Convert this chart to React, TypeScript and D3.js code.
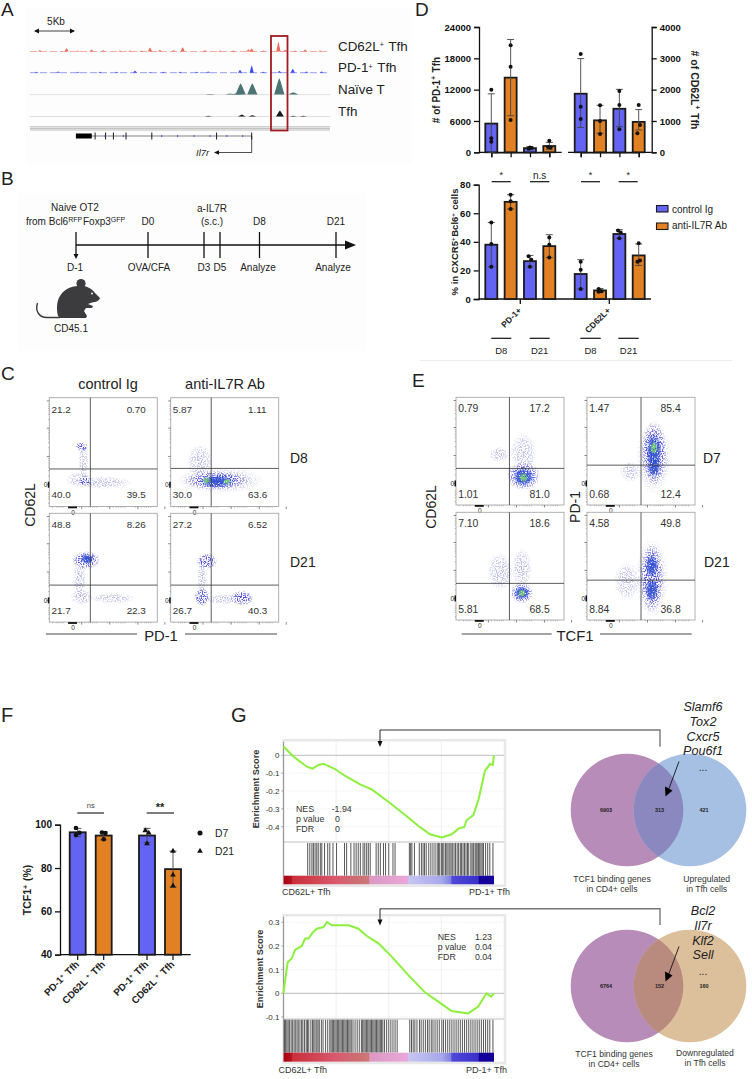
import React, { useRef, useEffect } from "react";
import * as d3 from "d3";

const FONT = "'Liberation Sans', Arial, sans-serif";
const BLUE = "#6464f4";
const ORANGE = "#e28024";

// ---- A: genome tracks, [position %, signal height]
const trackRed = [[3.3, 1.3], [12.2, 3.3], [16, 1], [20.5, 2], [24.4, 1.3], [30, 1], [33.3, 1], [37.2, 1], [40, 4], [43.3, 1.7], [47.8, 1.3], [50.9, 4.3], [58.3, 1.3], [63.3, 1], [67.8, 1], [72.8, 2.3], [73.9, 3], [77.8, 1], [82.8, 10], [85, 1.7], [88.3, 1], [91.7, 2], [96.7, 1]];
const trackBlue = [[2.2, 1], [9.4, 1.3], [16, 1], [23.3, 1], [28.9, 1], [35, 2], [40, 0.7], [44.4, 1], [50, 1], [55.6, 1], [59.4, 1.3], [70, 2.7], [73.9, 7.3], [77.8, 1], [83.1, 1.7], [87.6, 4], [92.2, 1.3], [97.2, 1.3]];
const trackNaive = [[60, 0.7], [66.7, 1], [68.9, 1.3], [70.2, 11.3], [74.1, 11.3], [83.1, 16.7], [87.8, 2.3]];
const trackTfh = [[59.4, 0.7], [70.6, 2], [74.1, 1.3], [83.3, 6], [87.8, 0.7], [91.1, 0.7]];
const exons = [21.7, 25.2, 27.8, 32, 40.6, 62.2, 73.9];
const introMarks = [25, 31.1, 43.9, 49.2, 54.7, 60, 65.6, 70.9];

// ---- B: timeline
const timelineDays = [-1, 0, 3, 5, 8, 21];

// ---- D: counts
const dLeftMean = [5500, 14300, 800, 1200];
const dLeftErr = [[0, 11200], [7000, 21600], [500, 1100], [500, 1900]];
const dLeftPts = [[12000, 2700, 2000], [20500, 16400, 6200], [700, 900, 800], [2200, 1000, 900]];
const dLeftSide = [[0, 0, 0], [0, 0, 0], [-1, 0, 1], [0, -1, 1]];
const dRightMean = [1870, 1020, 1390, 970];
const dRightErr = [[790, 2990], [606, 1500], [820, 2010], [712, 1362]];
const dRightPts = [[3140, 1457, 1064], [1500, 1000, 585], [1957, 1510, 734], [1510, 872, 606]];
const dRightSide = [[0, 0, 0], [0, 0, 0], [0, 0, 0], [0, 1, -1]];
const barIds = ["a", "b", "c", "d"];

// ---- D: percentages
const dPctMean = [38, 68, 26.5, 37, 17.5, 6, 45.5, 30.5];
const dPctErr = [[22.5, 53.5], [63, 73], [22.5, 30.5], [29, 45], [7, 27.5], [4.7, 7.3], [42.5, 48.5], [23.5, 38.5]];
const dPctPts = [[53.5, 38.5, 22.5], [73, 68.5, 63], [30, 27.5, 22.5], [43, 38, 29], [26, 20.5, 7], [7, 5.5, 5], [48, 46.5, 42.5], [39, 27, 26]];
const dPctSide = [[0, 0, 0], [0, 0, 0], [-1, 1, 0], [0, 0, 0], [0, 0, 0], [-1, 1, -1], [-1, 1, 0], [0, 1, -1]];

// ---- F
const fMean = [96.5, 95, 95, 79.5];
const fErr = [[94.5, 98.3], [93, 96.8], [91.8, 98.3], [71.2, 87.8]];
const fPts = [[98.5, 96.3, 95.2], [96.4, 96.2, 93.3], [97.3, 96.2, 91.3], [87.8, 76.8, 71.8]];
const fSide = [[-1, 1, -1], [-1, 1, 0], [-1, 1, 0], [0, 0, 0]];
const fLabels = ["PD-1", "CD62L ", "PD-1", "CD62L "];

// ---- C / E: flow density regions [x %, y %, rx, ry, level]
// The single events can't be read from the picture, so these are regions, not cells.
// The dotted look is an SVG noise filter (texture only, it positions no data).
const flowC1 = [[31.5, 41, 4, 14, 0], [28, 24.5, 11, 6, 0], [50, 22, 22, 5, 0], [30, 55, 5, 4, 1], [33, 23.5, 5, 4, 1]];
const flowC2 = [[27, 41, 10, 14, 0], [46, 24, 34, 10, 0], [42, 24, 25, 7, 1], [43, 23, 13, 5, 2], [33, 24, 3, 2.5, 3], [52, 23, 3, 2, 3]];
const flowC3 = [[28, 40, 5, 18, 0], [30, 23, 9, 6, 0], [59, 22, 18, 4, 0], [34, 57, 11, 7, 1], [35, 58, 5, 4, 2]];
const flowC4 = [[29, 40, 4, 16, 0], [49, 21, 16, 4, 0], [33.5, 56, 8, 6, 1], [29, 23, 6, 7, 1], [66, 22, 9, 6, 1]];
const flowE1 = [[40, 47, 8, 6, 0], [62.5, 48, 10, 16, 0], [62.5, 27, 13, 11, 1], [62.5, 26, 8, 7, 2], [62.5, 25.5, 3.5, 3.5, 3]];
const flowE2 = [[40, 31, 8, 8, 0], [62, 44, 14, 28, 0], [62, 48, 10, 25, 1], [62, 50, 6, 14, 2], [62, 36, 5, 9, 2], [62, 53, 3, 5, 3]];
const flowE3 = [[41, 45, 10, 15, 0], [61, 48, 8, 16, 0], [61, 25, 9, 8, 1], [61, 25, 6, 5, 2], [61, 25, 3, 3, 3]];
const flowE4 = [[37, 36, 10, 15, 0], [60, 39, 13, 30, 0], [60, 39, 9, 27, 1], [60, 50, 5, 9, 2], [60, 28, 5, 9, 2]];
const levelColor = ["#9a9ad8", "#3a3ad8", "#2f4fd0", "#74d468"];

const flowPanels = [
  { c: flowC1, box: [49.3, 397.7], gate: [38, 34.5], q: ["21.2", "0.70", "40.0", "39.5"] },
  { c: flowC2, box: [170.7, 397.7], gate: [37.5, 35], q: ["5.87", "1.11", "30.0", "63.6"] },
  { c: flowC3, box: [49.3, 513.3], gate: [38, 34], q: ["48.8", "8.26", "21.7", "22.3"] },
  { c: flowC4, box: [170.7, 513.3], gate: [37.5, 34], q: ["27.2", "6.52", "26.7", "40.3"] },
  { c: flowE1, box: [456, 397.3], gate: [49.5, 34], q: ["0.79", "17.2", "1.01", "81.0"] },
  { c: flowE2, box: [587, 397.3], gate: [50, 37], q: ["1.47", "85.4", "0.68", "12.4"] },
  { c: flowE3, box: [456, 512.3], gate: [49.5, 34], q: ["7.10", "18.6", "5.81", "68.5"] },
  { c: flowE4, box: [587, 512.3], gate: [50, 37], q: ["4.58", "49.8", "8.84", "36.8"] },
];
const flowMajorTicks = [20, 46, 72, 97];
const flowMinorTicks = [3, 7, 9, 11, 13, 28, 33, 36, 38, 40, 42, 44, 54, 59, 62, 64, 66, 68, 70, 80, 85, 88, 90, 92, 94];

// ---- G: running enrichment scores [rank %, ES]
const gseaTop = [[0, 0.049], [4.7, -0.007], [11.1, -0.064], [13.8, -0.075], [16.6, -0.054], [19, -0.047], [24.5, -0.077], [29.3, -0.116], [36.4, -0.163], [41.9, -0.191], [49.8, -0.26], [57.8, -0.335], [64.1, -0.396], [69.6, -0.443], [75.2, -0.46], [79.9, -0.443], [83.1, -0.411], [85.9, -0.402], [87, -0.364], [90.2, -0.335], [92.6, -0.25], [95.7, -0.088], [98.1, -0.049], [99.4, -0.054], [100, 0]];
const gseaBottom = [[0, 0], [0.8, 0.056], [2, 0.131], [3.96, 0.148], [5.5, 0.183], [8.7, 0.2], [10.3, 0.231], [11.9, 0.231], [13.8, 0.256], [15.8, 0.273], [19, 0.28], [20.6, 0.301], [23, 0.287], [30.9, 0.287], [35.6, 0.273], [39.6, 0.242], [45.1, 0.211], [51.4, 0.155], [59.3, 0.077], [67.2, 0.004], [73.5, -0.035], [79.9, -0.075], [87.8, -0.085], [92.5, -0.056], [96.4, 0], [98.7, -0.014], [100, 0]];
const hitsTop = [11.5, 12.5, 13.5, 14.2, 15, 15.8, 16.5, 17.5, 18.2, 19.5, 21, 22, 23.5, 25.2, 29, 30, 32, 33.5, 34.5, 35.5, 36.5, 37.8, 38.6, 39.5, 40.3, 41.2, 44, 45, 46, 47.5, 48.5, 50, 52, 53, 59.8, 60.4, 61, 62.2, 64.5, 65.5, 66.3, 67, 67.8, 69, 70, 71, 72, 73, 73.6, 74.2, 75, 75.6, 76.2, 77, 77.6, 78.2, 79, 79.6, 80.2, 81, 81.7, 82.5, 83.2, 84, 84.6, 85.3, 86, 86.7, 87.4, 88, 89, 89.6, 90.2, 91, 91.5, 92, 92.6, 93.2, 93.8, 94.4, 95, 96, 97, 98, 99.5];
const hitsBottom = [0.5, 1, 1.6, 2.2, 2.8, 3.6, 4.2, 5, 5.6, 6.4, 7, 7.8, 8.6, 9.2, 10, 10.8, 11.4, 12, 13, 13.8, 14.4, 15, 15.8, 16.4, 17, 18, 18.8, 20, 21, 22, 22.6, 23.2, 23.8, 24.4, 25, 25.6, 26.2, 26.8, 27.4, 28, 28.6, 29.2, 29.8, 30.4, 31, 31.6, 32.2, 33, 34, 35, 36, 37, 37.6, 38.2, 38.8, 39.4, 40, 40.6, 41.2, 41.8, 42.4, 43, 43.6, 44.2, 44.8, 45.4, 46, 46.6, 47.2, 48, 49, 50, 51, 52, 53, 54, 60, 60.8, 61.6, 62.4, 63.4, 64.6, 65.4, 66.4, 67.4, 68.4, 69.2, 70.2, 71, 72, 73, 74, 75.2, 76, 77, 78, 79, 80, 81, 82, 83, 84, 85, 86, 87, 88, 89, 90, 91, 92, 93, 94, 95, 96, 97, 98, 99.5];
const ribbonOffsets = [0, 4, 4.1, 13, 25, 35, 40.5, 41, 59, 59.5, 75, 79.5, 80, 92.5, 93, 100];
const ribbonColors = ["#a8000f", "#b31620", "#c8303a", "#d0404f", "#d85a70", "#cc6e72", "#cf7878", "#dd98c4", "#e8a8d8", "#c6c6f2", "#a8a8ea", "#8080e0", "#5048d8", "#3a30c8", "#14009a", "#14009a"];
const esTicksTop = [0, -0.1, -0.2, -0.3, -0.4];
const esTicksBottom = [0.3, 0.2, 0.1, 0, -0.1];

function T({ x, y, size = 9, anchor = "start", weight = "normal", italic = false, rotate, fill = "#222", children }: any) {
  return (
    <text
      x={rotate === undefined ? x : 0}
      y={rotate === undefined ? y : 0}
      transform={rotate === undefined ? undefined : `translate(${x},${y}) rotate(${rotate})`}
      fontSize={size}
      textAnchor={anchor}
      fontWeight={weight}
      fontStyle={italic ? "italic" : "normal"}
      fontFamily={FONT}
      fill={fill}
    >
      {children}
    </text>
  );
}

const Sup = ({ dy = 3.5, size = 7, children }: any) => (
  <>
    <tspan dy={-dy} fontSize={size}>{children}</tspan>
    <tspan dy={dy}>{"\u200a"}</tspan>
  </>
);

// d3 axis drawn into a <g>
function Axis({ gen, x = 0, y = 0, size = 9.5 }: any) {
  const ref = useRef<SVGGElement>(null);
  useEffect(() => {
    const g = d3.select(ref.current);
    g.call(gen);
    g.selectAll("path,line").attr("stroke", "#111").attr("stroke-width", 1.3);
    g.selectAll("text")
      .attr("font-family", FONT)
      .attr("font-weight", "bold")
      .attr("font-size", size)
      .attr("fill", "#111");
  }, []);
  return <g ref={ref} transform={`translate(${x},${y})`} />;
}

function Bars({ ids, xs, mean, err, pts, side, y, w = 12, sym = "circle", r = 2 }: any) {
  const y0 = y.range()[0];
  return (
    <g>
      {ids.map((id: string, i: number) => {
        const cx = xs(id);
        return (
          <g key={id}>
            <rect x={cx - w / 2} y={y(mean[i])} width={w} height={y0 - y(mean[i])} fill={i % 2 ? ORANGE : BLUE} stroke="#1a1a1a" strokeWidth={1.8} />
            <path d={`M${cx},${y(err[i][0])}V${y(err[i][1])}M${cx - 3.5},${y(err[i][0])}h7M${cx - 3.5},${y(err[i][1])}h7`} stroke="#444" strokeWidth={0.9} fill="none" />
            {pts[i].map((p: number, j: number) => {
              const px = cx + side[i][j] * w * 0.11;
              return sym === "circle" ? (
                <circle key={j} cx={px} cy={y(p)} r={r} fill="#111" />
              ) : (
                <path key={j} transform={`translate(${px},${y(p)})`} d={d3.symbol(d3.symbolTriangle, 14)() as string} fill="#111" />
              );
            })}
          </g>
        );
      })}
    </g>
  );
}

function Track({ peaks, y0, color, width, x, baseline = "#d8d8d8", dash }: any) {
  const area = d3.area<number[]>().x((d) => x(d[0])).y0(y0).y1((d) => y0 - d[1]);
  return (
    <g>
      <line x1={x(0)} x2={x(100)} y1={y0} y2={y0} stroke={baseline} strokeWidth={0.8} strokeDasharray={dash} />
      {peaks.map((p: number[], i: number) => (
        <path key={i} d={area([[p[0] - width, 0], [p[0] - width / 4, p[1] * 0.8], [p[0], p[1]], [p[0] + width / 4, p[1] * 0.8], [p[0] + width, 0]]) as string} fill={color} />
      ))}
    </g>
  );
}

function PanelA() {
  const x = d3.scaleLinear().domain([0, 100]).range([30, 330]);
  const geneY = 136;
  return (
    <g>
      <rect x={26} y={8} width={386} height={156} fill="#fdfdfd" />
      <T x={56} y={25} size={10} anchor="middle">5Kb</T>
      <path d="M35,31H74" stroke="#111" strokeWidth={0.8} />
      <path d="M34,31l5,-2.5v5zM75,31l-5,-2.5v5z" fill="#111" />
      <Track peaks={trackRed} y0={51.5} color="#ee6a58" width={0.7} x={x} baseline="#f09a8c" dash="7 3" />
      <Track peaks={trackBlue} y0={72.7} color="#3a4ef0" width={0.7} x={x} baseline="#7c88f0" dash="7 3" />
      <Track peaks={trackNaive} y0={94.6} color="#4d7474" width={1.7} x={x} />
      <Track peaks={trackTfh} y0={116.5} color="#161616" width={1.3} x={x} />
      {[126.8, 128.4, 130].map((yy) => (
        <line key={yy} x1={x(0)} x2={x(100)} y1={yy} y2={yy} stroke="#a9a9a9" strokeWidth={0.8} />
      ))}
      <rect x={271} y={36} width={16.5} height={94.5} fill="none" stroke="#a01c22" strokeWidth={1.8} />
      <rect x={x(15.3)} y={geneY - 2.5} width={x(20.6) - x(15.3)} height={5} fill="#000" />
      <line x1={x(20.6)} x2={x(73.9)} y1={geneY} y2={geneY} stroke="#333" strokeWidth={0.6} />
      {exons.map((e) => (
        <line key={e} x1={x(e)} x2={x(e)} y1={geneY - 3.5} y2={geneY + 3.5} stroke="#000" strokeWidth={0.9} />
      ))}
      {introMarks.map((e) => (
        <line key={e} x1={x(e)} x2={x(e)} y1={geneY - 1} y2={geneY + 1} stroke="#4a55e0" strokeWidth={1} />
      ))}
      <path d={`M${x(73.9)},${geneY}V152.5H218`} fill="none" stroke="#222" strokeWidth={0.8} />
      <path d="M214,152.5l5,-2.3v4.6z" fill="#111" />
      <T x={196} y={155.5} size={9.5} italic>Il7r</T>
      <T x={338} y={50.5} size={13.4}>CD62L<Sup>+</Sup> Tfh</T>
      <T x={338} y={72} size={13.4}>PD-1<Sup>+</Sup> Tfh</T>
      <T x={338} y={94} size={13.4}>Naïve T</T>
      <T x={338} y={116} size={13.4}>Tfh</T>
    </g>
  );
}

function PanelB() {
  const pos = [76, 148, 204, 220, 259.5, 336];
  const x = d3.scaleOrdinal<number, number>().domain(timelineDays).range(pos);
  const labelsTop = ["", "D0", "", "", "D8", "D21"];
  const labelsBot = ["D-1", "OVA/CFA", "D3", "D5", "Analyze", "Analyze"];
  const botX = [75, 149, 204, 220, 258, 333];
  return (
    <g>
      <rect x={18} y={193} width={348} height={158} fill="#fdfdfd" />
      <line x1={76} x2={348} y1={245} y2={245} stroke="#111" strokeWidth={1.6} />
      <path d="M356,245l-11,-4.5v9z" fill="#111" />
      {timelineDays.map((d, i) => (
        <line key={d} x1={x(d)} x2={x(d)} y1={232} y2={i === 0 ? 255 : 258} stroke="#111" strokeWidth={1.3} />
      ))}
      <path d="M76,259l-2.5,-5h5z" fill="#111" />
      {labelsTop.map((l, i) => l && <T key={l} x={pos[i]} y={225} size={10} anchor="middle">{l}</T>)}
      {labelsBot.map((l, i) => <T key={i} x={botX[i]} y={270.5} size={10} anchor="middle">{l}</T>)}
      <T x={75} y={210.5} size={10} anchor="middle">Naive OT2</T>
      <T x={76} y={225} size={10} anchor="middle">
        from Bcl6<Sup dy={3} size={7}>RFP</Sup>Foxp3<Sup dy={3} size={7}>GFP</Sup>
      </T>
      <T x={212} y={212} size={10} anchor="middle">a-IL7R</T>
      <T x={212} y={225} size={10} anchor="middle">(s.c.)</T>
      {/* mouse icon */}
      <g fill="#3c3c3e">
        <circle cx={81} cy={283.5} r={4.6} />
        <path d="M58,316C54,298 63,287 78,286C86,285 92,289 95,293L100,298C99,301 96,302 92,302.5L88,304L93,306L92,308L86,308L84,311L87,316L86,318L60,318Z" />
      </g>
      <circle cx={92} cy={293.5} r={0.9} fill="#fff" />
      <path d="M60,317.5H47C39,317.5 35,311 37.5,303" fill="none" stroke="#3c3c3e" strokeWidth={1.4} />
      <T x={71} y={331.5} size={10} anchor="middle">CD45.1</T>
    </g>
  );
}

function FlowPlot({ panel, idx }: any) {
  const W = 108;
  const isE = panel.box[0] > 400;
  const H = isE ? 107.7 : 108.8;
  const [bx, by] = panel.box;
  const x = d3.scaleLinear().domain([0, 100]).range([bx, bx + W]);
  const y = d3.scaleLinear().domain([0, 100]).range([by + H, by]);
  const zeroX = 22;
  const zeroY = 20;
  const rightX = isE ? 68 : 71.6;
  const labelX = [x(2), x(rightX), x(2), x(rightX)];
  const labelY = [by + 14.8, by + 14.8, by + 100.3, by + 100.3];
  return (
    <g>
      <clipPath id={`clip${idx}`}><rect x={bx} y={by} width={W} height={H} /></clipPath>
      <g clipPath={`url(#clip${idx})`}>
        <g filter="url(#speckle)">
          {panel.c.filter((d: number[]) => d[4] < 2).map((d: number[], i: number) => (
            <ellipse key={i} cx={x(d[0])} cy={y(d[1])} rx={d[2] * 1.3} ry={d[3] * 1.3} fill={`url(#lvl${d[4]})`} />
          ))}
        </g>
        <g filter="url(#speckleDense)">
          {panel.c.filter((d: number[]) => d[4] >= 2).map((d: number[], i: number) => (
            <ellipse key={i} cx={x(d[0])} cy={y(d[1])} rx={d[2] * 1.3} ry={d[3] * 1.3} fill={`url(#lvl${d[4]})`} />
          ))}
        </g>
      </g>
      <rect x={bx} y={by} width={W} height={H} fill="none" stroke="#a8a8a8" strokeWidth={0.9} />
      <line x1={x(panel.gate[0])} x2={x(panel.gate[0])} y1={by} y2={by + H} stroke="#333" strokeWidth={0.8} />
      <line x1={bx} x2={bx + W} y1={y(panel.gate[1])} y2={y(panel.gate[1])} stroke="#333" strokeWidth={0.8} />
      {flowMajorTicks.map((t) => (
        <g key={t}>
          <line x1={bx - 2.5} x2={bx} y1={y(t)} y2={y(t)} stroke="#555" strokeWidth={0.7} />
          <line x1={x(t + 10)} x2={x(t + 10)} y1={by + H} y2={by + H + 2.5} stroke="#555" strokeWidth={0.7} />
        </g>
      ))}
      {flowMinorTicks.map((t) => (
        <g key={t}>
          <line x1={bx - 1.3} x2={bx} y1={y(t)} y2={y(t)} stroke="#888" strokeWidth={0.5} />
          <line x1={x(t)} x2={x(t)} y1={by + H} y2={by + H + 1.3} stroke="#888" strokeWidth={0.5} />
        </g>
      ))}
      <rect x={bx - 1.5} y={y(zeroY) - 3} width={1.5} height={6} fill="#111" />
      <rect x={x(zeroX) - 5} y={by + H} width={9} height={1.8} fill="#111" />
      <T x={bx - 2} y={y(zeroY) + 2.5} size={6.5} anchor="end" fill="#333">0</T>
      <T x={x(zeroX)} y={by + H + 8} size={6.5} anchor="middle" fill="#333">0</T>
      {panel.q.map((q: string, i: number) => (
        <T key={i} x={labelX[i]} y={labelY[i]} size={isE ? 10.4 : 9.9} fill="#333">{q}</T>
      ))}
    </g>
  );
}

function Gsea({ curve, hits, ticks, top, bottom, zeroY, perUnit, barTop, barBot, ribBot, boxBot, id }: any) {
  const x = d3.scaleLinear().domain([0, 100]).range([283.5, 494]);
  const y = d3.scaleLinear().domain([0, -1]).range([zeroY, zeroY + perUnit]);
  const line = d3.line<number[]>().x((d) => x(d[0])).y((d) => y(d[1])).curve(d3.curveLinear);
  return (
    <g>
      <rect x={283.5} y={top - 1.5} width={221.5} height={boxBot - top + 1.5} fill="#fff" stroke="#e8e8e8" strokeWidth={2.5} />
      {[25, 50, 75].map((g) => (
        <line key={g} x1={x(g)} x2={x(g)} y1={top} y2={bottom} stroke="#e6e6e6" strokeWidth={0.6} />
      ))}
      {ticks.map((t: number) => (
        <g key={t}>
          {t !== 0 && <line x1={283.5} x2={504} y1={y(t)} y2={y(t)} stroke="#e2e2e2" strokeWidth={0.6} strokeDasharray="1.5 1.5" />}
          <line x1={281} x2={283.5} y1={y(t)} y2={y(t)} stroke="#888" strokeWidth={0.6} />
          <T x={279.5} y={y(t) + 3} size={8} anchor="end" fill="#333">{t}</T>
        </g>
      ))}
      <line x1={283.5} x2={504} y1={zeroY} y2={zeroY} stroke="#aaa" strokeWidth={0.8} />
      <line x1={283.5} x2={504} y1={bottom} y2={bottom} stroke="#999" strokeWidth={0.6} />
      <line x1={283.5} x2={283.5} y1={top} y2={barBot} stroke="#888" strokeWidth={0.8} />
      <path d={line(curve) as string} fill="none" stroke="#8cf03c" strokeWidth={2} />
      {hits.map((h: number) => (
        <line key={h} x1={x(h)} x2={x(h)} y1={barTop} y2={barBot} stroke="#222" strokeOpacity={0.8} strokeWidth={0.95} />
      ))}
      <linearGradient id={id}>
        {ribbonOffsets.map((o, i) => <stop key={o} offset={`${o}%`} stopColor={ribbonColors[i]} />)}
      </linearGradient>
      <rect x={283.5} y={barBot} width={210.5} height={ribBot - barBot} fill={`url(#${id})`} />
    </g>
  );
}

function Venn({ cy, id, rightFill, overlap, nums, arrowTop }: any) {
  const cxL = 627;
  const cxR = 690;
  const r = 56.3;
  return (
    <g>
      <circle cx={cxL} cy={cy} r={r} fill="#b78cb8" />
      <circle cx={cxR} cy={cy} r={r} fill={rightFill} />
      <clipPath id={id}><circle cx={cxL} cy={cy} r={r} /></clipPath>
      <circle cx={cxR} cy={cy} r={r} fill={overlap} clipPath={`url(#${id})`} />
      {nums.map((n: string, i: number) => (
        <T key={n} x={[606, 659.5, 704][i]} y={cy + 1.8} size={5.5} anchor="middle" weight="bold">{n}</T>
      ))}
      <line x1={679} y1={arrowTop} x2={667.5} y2={arrowTop + 31} stroke="#111" strokeWidth={0.9} />
      <path d={`M665.5,${arrowTop + 35}L665,${arrowTop + 25}L672.5,${arrowTop + 29}Z`} fill="#000" />
    </g>
  );
}

export default function App() {
  // D upper
  const xL = d3.scalePoint().domain(barIds).range([491.3, 549.3]);
  const xR = d3.scalePoint().domain(barIds).range([580.7, 638.7]);
  const yCountL = d3.scaleLinear().domain([0, 24000]).range([152.3, 27]);
  const yCountR = d3.scaleLinear().domain([0, 4000]).range([152.3, 27]);
  // D lower
  const yPct = d3.scaleLinear().domain([0, 80]).range([299, 184.7]);
  // F
  const xF = d3.scaleOrdinal<string, number>().domain(barIds).range([77.7, 103.7, 147, 173]);
  const yF = d3.scaleLinear().domain([40, 100]).range([954.7, 824.7]);

  return (
    <svg width={752} height={1079} style={{ position: "absolute", top: 0, left: 0, background: "#fff" }}>
      <defs>
        {levelColor.map((c, i) => (
          <radialGradient key={i} id={`lvl${i}`}>
            <stop offset="0%" stopColor={c} stopOpacity={i === 0 ? 0.75 : 1} />
            <stop offset="60%" stopColor={c} stopOpacity={i === 0 ? 0.5 : 0.8} />
            <stop offset="100%" stopColor={c} stopOpacity={0} />
          </radialGradient>
        ))}
        <filter id="speckle" x="0" y="0" width="100%" height="100%" colorInterpolationFilters="sRGB">
          <feTurbulence type="fractalNoise" baseFrequency="0.8" numOctaves={1} seed={3} result="n" />
          <feColorMatrix in="n" type="matrix" values="0 0 0 0 0 0 0 0 0 0 0 0 0 0 0 6 0 0 0 -2.7" result="m" />
          <feComposite in="SourceGraphic" in2="m" operator="in" />
        </filter>
        <filter id="speckleDense" x="0" y="0" width="100%" height="100%" colorInterpolationFilters="sRGB">
          <feTurbulence type="fractalNoise" baseFrequency="0.9" numOctaves={1} seed={8} result="n" />
          <feColorMatrix in="n" type="matrix" values="0 0 0 0 0 0 0 0 0 0 0 0 0 0 0 5 0 0 0 -1.4" result="m" />
          <feComposite in="SourceGraphic" in2="m" operator="in" />
        </filter>
      </defs>

      {/* panel letters */}
      <T x={1} y={16} size={19}>A</T>
      <T x={415} y={16} size={19}>D</T>
      <T x={1} y={185} size={19}>B</T>
      <T x={1} y={380} size={19}>C</T>
      <T x={412} y={387} size={19}>E</T>
      <T x={1} y={722} size={20}>F</T>
      <T x={231} y={722} size={20}>G</T>

      <PanelA />
      <PanelB />

      {/* D upper */}
      <Axis gen={d3.axisLeft(yCountL).tickValues([0, 6000, 12000, 18000, 24000]).tickFormat(d3.format("d")).tickSizeOuter(0).tickSize(5)} x={479} />
      <Axis gen={d3.axisRight(yCountR).tickValues([0, 1000, 2000, 3000, 4000]).tickFormat(d3.format("d")).tickSizeOuter(0).tickSize(5)} x={651.7} />
      <line x1={479} x2={561.7} y1={152.3} y2={152.3} stroke="#111" strokeWidth={1.3} />
      <line x1={568} x2={651.7} y1={152.3} y2={152.3} stroke="#111" strokeWidth={1.3} />
      <Axis gen={d3.axisBottom(xL).tickSize(5).tickFormat(() => "")} y={152.3} />
      <Axis gen={d3.axisBottom(xR).tickSize(5).tickFormat(() => "")} y={152.3} />
      <Bars ids={barIds} xs={xL} mean={dLeftMean} err={dLeftErr} pts={dLeftPts} side={dLeftSide} y={yCountL} />
      <Bars ids={barIds} xs={xR} mean={dRightMean} err={dRightErr} pts={dRightPts} side={dRightSide} y={yCountR} />
      <T x={439.5} y={90} size={10} anchor="middle" weight="bold" rotate={-90}># of PD-1<Sup size={6.5}>+</Sup> Tfh</T>
      <T x={691} y={90} size={10.5} anchor="middle" weight="bold" rotate={90}># of CD62L<Sup size={6.5}>+</Sup> Tfh</T>

      {/* D lower */}
      <Axis gen={d3.axisLeft(yPct).tickValues([0, 20, 40, 60, 80]).tickSizeOuter(0).tickSize(5)} x={478.7} />
      <line x1={478.7} x2={651} y1={299} y2={299} stroke="#111" strokeWidth={1.3} />
      <line x1={520.3} x2={520.3} y1={299} y2={304} stroke="#111" strokeWidth={1.3} />
      <line x1={609.3} x2={609.3} y1={299} y2={304} stroke="#111" strokeWidth={1.3} />
      <Bars ids={barIds} xs={xL} mean={dPctMean.slice(0, 4)} err={dPctErr.slice(0, 4)} pts={dPctPts.slice(0, 4)} side={dPctSide.slice(0, 4)} y={yPct} />
      <Bars ids={barIds} xs={xR} mean={dPctMean.slice(4)} err={dPctErr.slice(4)} pts={dPctPts.slice(4)} side={dPctSide.slice(4)} y={yPct} />
      <T x={458} y={242} size={9.5} anchor="middle" weight="bold" rotate={-90}>% in CXCR5<Sup size={6}>+</Sup>Bcl6<Sup size={6}>+</Sup> cells</T>
      <T x={522} y={311} size={8.5} anchor="end" weight="bold" rotate={-45}>PD-1+</T>
      <T x={611} y={311} size={8.5} anchor="end" weight="bold" rotate={-45}>CD62L+</T>
      {[[491.7, 510.7, "*"], [530, 549.3, "n.s"], [581, 600, "*"], [618.7, 637.7, "*"]].map((s: any) => (
        <g key={s[0]}>
          <line x1={s[0]} x2={s[1]} y1={181.7} y2={181.7} stroke="#111" strokeWidth={1.2} />
          <T x={(s[0] + s[1]) / 2} y={s[2] === "*" ? 178 : 179} size={s[2] === "*" ? 9 : 10} anchor="middle">{s[2]}</T>
        </g>
      ))}
      {[[491.3, 511.3, "D8"], [529.7, 549.7, "D21"], [580.3, 600.7, "D8"], [618.3, 638.7, "D21"]].map((s: any) => (
        <g key={s[0]}>
          <line x1={s[0]} x2={s[1]} y1={338.3} y2={338.3} stroke="#111" strokeWidth={1.2} />
          <T x={(s[0] + s[1]) / 2} y={353.5} size={9.5} anchor="middle">{s[2]}</T>
        </g>
      ))}
      <rect x={656.5} y={205.5} width={11.5} height={6.5} fill={BLUE} stroke="#1a1a1a" strokeWidth={1.1} />
      <rect x={656.5} y={223} width={11.5} height={6.5} fill={ORANGE} stroke="#1a1a1a" strokeWidth={1.1} />
      <T x={672} y={212.5} size={10}>control Ig</T>
      <T x={672} y={229} size={10}>anti-IL7R Ab</T>
      <line x1={420} x2={732} y1={360.5} y2={360.5} stroke="#ececec" strokeWidth={1} />

      {/* C and E */}
      {flowPanels.map((p, i) => <FlowPlot key={i} panel={p} idx={i} />)}
      <T x={108} y={389} size={14.5} anchor="middle">control Ig</T>
      <T x={225} y={389} size={14.5} anchor="middle">anti-IL7R Ab</T>
      <T x={35} y={505} size={14} anchor="middle" rotate={-90}>CD62L</T>
      <T x={290} y={463} size={14}>D8</T>
      <T x={290} y={566.5} size={14}>D21</T>
      <line x1={46} x2={137} y1={634} y2={634} stroke="#333" strokeWidth={0.9} />
      <line x1={185} x2={277} y1={634} y2={634} stroke="#333" strokeWidth={0.9} />
      <T x={161} y={640.5} size={14.8} anchor="middle">PD-1</T>

      <T x={436} y={507} size={14} anchor="middle" rotate={-90}>CD62L</T>
      <T x={579.5} y={507} size={14} anchor="middle" rotate={-90}>PD-1</T>
      <T x={703} y={463} size={14}>D7</T>
      <T x={704} y={566.5} size={14}>D21</T>
      <line x1={461.7} x2={551.7} y1={634} y2={634} stroke="#333" strokeWidth={0.9} />
      <line x1={600} x2={691.7} y1={634} y2={634} stroke="#333" strokeWidth={0.9} />
      <T x={575} y={640.5} size={14.8} anchor="middle">TCF1</T>

      {/* F */}
      <Axis gen={d3.axisLeft(yF).tickValues([40, 60, 80, 100]).tickSizeOuter(0).tickSize(5)} x={60} size={10} />
      <line x1={60} x2={190.7} y1={954.7} y2={954.7} stroke="#111" strokeWidth={1.3} />
      {barIds.map((id, i) => (
        <g key={id}>
          <line x1={xF(id)} x2={xF(id)} y1={954.7} y2={960} stroke="#111" strokeWidth={1.2} />
          <T x={xF(id) + 2} y={965} size={9.8} anchor="end" weight="bold" rotate={-45}>{fLabels[i]}<Sup dy={3} size={6}>+</Sup> Tfh</T>
        </g>
      ))}
      <Bars ids={["a", "b"]} xs={xF} mean={fMean} err={fErr} pts={fPts} side={fSide} y={yF} w={16} r={2.3} />
      <Bars ids={["c", "d"]} xs={xF} mean={fMean.slice(2)} err={fErr.slice(2)} pts={fPts.slice(2)} side={fSide.slice(2)} y={yF} w={16} sym="triangle" />
      <T x={31} y={890} size={10.5} anchor="middle" weight="bold" rotate={-90}>TCF1<Sup size={7}>+</Sup> (%)</T>
      <line x1={77.3} x2={104} y1={813} y2={813} stroke="#111" strokeWidth={1.1} />
      <line x1={146.7} x2={174} y1={813} y2={813} stroke="#111" strokeWidth={1.1} />
      <T x={90.7} y={807.5} size={7.5} anchor="middle" fill="#444">ns</T>
      <T x={160} y={811} size={11} anchor="middle" weight="bold">**</T>
      <circle cx={200} cy={833} r={2.5} fill="#111" />
      <path transform="translate(200,851)" d={d3.symbol(d3.symbolTriangle, 14)() as string} fill="#111" />
      <T x={215} y={836.5} size={10.4}>D7</T>
      <T x={215} y={854.5} size={10.4}>D21</T>

      {/* G */}
      <Gsea id="ribTop" curve={gseaTop} hits={hitsTop} ticks={esTicksTop} top={741.7} bottom={842} zeroY={755.3} perUnit={178.4} barTop={843} barBot={875.7} ribBot={884.3} boxBot={885.7} />
      <Gsea id="ribBot" curve={gseaBottom} hits={hitsBottom} ticks={esTicksBottom} top={916.7} bottom={1019} zeroY={993.3} perUnit={236.7} barTop={1019.7} barBot={1052.7} ribBot={1061.7} boxBot={1063} />
      <T x={259} y={789} size={9.2} anchor="middle" weight="bold" fill="#333" rotate={-90}>Enrichment Score</T>
      <T x={262.5} y={969} size={9.2} anchor="middle" weight="bold" fill="#333" rotate={-90}>Enrichment Score</T>
      <T x={282} y={895} size={9} fill="#333">CD62L+ Tfh</T>
      <T x={510} y={895} size={9} anchor="end" fill="#333">PD-1+ Tfh</T>
      <T x={278.5} y={1073} size={9} fill="#333">CD62L+ Tfh</T>
      <T x={507} y={1073} size={9} anchor="end" fill="#333">PD-1+ Tfh</T>
      {[["NES", "-1.94", 331.7], ["p value", "0", 335], ["FDR", "0", 335]].map((r: any, i) => (
        <g key={r[0]}>
          <T x={296} y={812 + i * 10.1} size={8.8} fill="#333">{r[0]}</T>
          <T x={r[2]} y={812 + i * 10.1} size={8.8} fill="#333">{r[1]}</T>
        </g>
      ))}
      {[["NES", "1.23"], ["p value", "0.04"], ["FDR", "0.04"]].map((r: any, i) => (
        <g key={r[0]}>
          <T x={437.7} y={939.5 + i * 10.3} size={8.8} fill="#333">{r[0]}</T>
          <T x={492} y={939.5 + i * 10.3} size={8.8} anchor="end" fill="#333">{r[1]}</T>
        </g>
      ))}
      <path d="M380,730H660V746.7" fill="none" stroke="#777" strokeWidth={1.4} />
      <path d="M380,908.7H660V925" fill="none" stroke="#777" strokeWidth={1.4} />
      <path d="M380,730V743M380,908.7V921.5" stroke="#111" strokeWidth={0.9} />
      <path d="M380,747l-2.5,-6h5zM380,925.5l-2.5,-6h5z" fill="#111" />

      <Venn cy={810} id="vennTop" rightFill="#a6c0e4" overlap="#8b88bf" nums={["6903", "313", "421"]} arrowTop={761.5} />
      <Venn cy={986} id="vennBot" rightFill="#dcc09c" overlap="#b98a7e" nums={["6764", "152", "160"]} arrowTop={946.5} />
      {["Slamf6", "Tox2", "Cxcr5", "Pou6f1"].map((g, i) => (
        <T key={g} x={703} y={711 + i * 14.8} size={12.6} anchor="middle" italic>{g}</T>
      ))}
      {["Bcl2", "Il7r", "Klf2", "Sell"].map((g, i) => (
        <T key={g} x={703} y={915 + i * 14.8} size={12.6} anchor="middle" italic>{g}</T>
      ))}
      <T x={703} y={771} size={10} anchor="middle">...</T>
      <T x={703} y={975} size={10} anchor="middle">...</T>
      <T x={612} y={881.5} size={8.6} anchor="middle" fill="#333">TCF1 binding genes</T>
      <T x={612} y={891.5} size={8.6} anchor="middle" fill="#333">in CD4+ cells</T>
      <T x={706.7} y={881.5} size={8.6} anchor="middle" fill="#333">Upregulated</T>
      <T x={706.7} y={891.5} size={8.6} anchor="middle" fill="#333">in Tfh cells</T>
      <T x={614} y={1057} size={8.6} anchor="middle" fill="#333">TCF1 binding genes</T>
      <T x={614} y={1067} size={8.6} anchor="middle" fill="#333">in CD4+ cells</T>
      <T x={705} y={1055.5} size={8.6} anchor="middle" fill="#333">Downregulated</T>
      <T x={705} y={1066} size={8.6} anchor="middle" fill="#333">in Tfh cells</T>
    </svg>
  );
}
